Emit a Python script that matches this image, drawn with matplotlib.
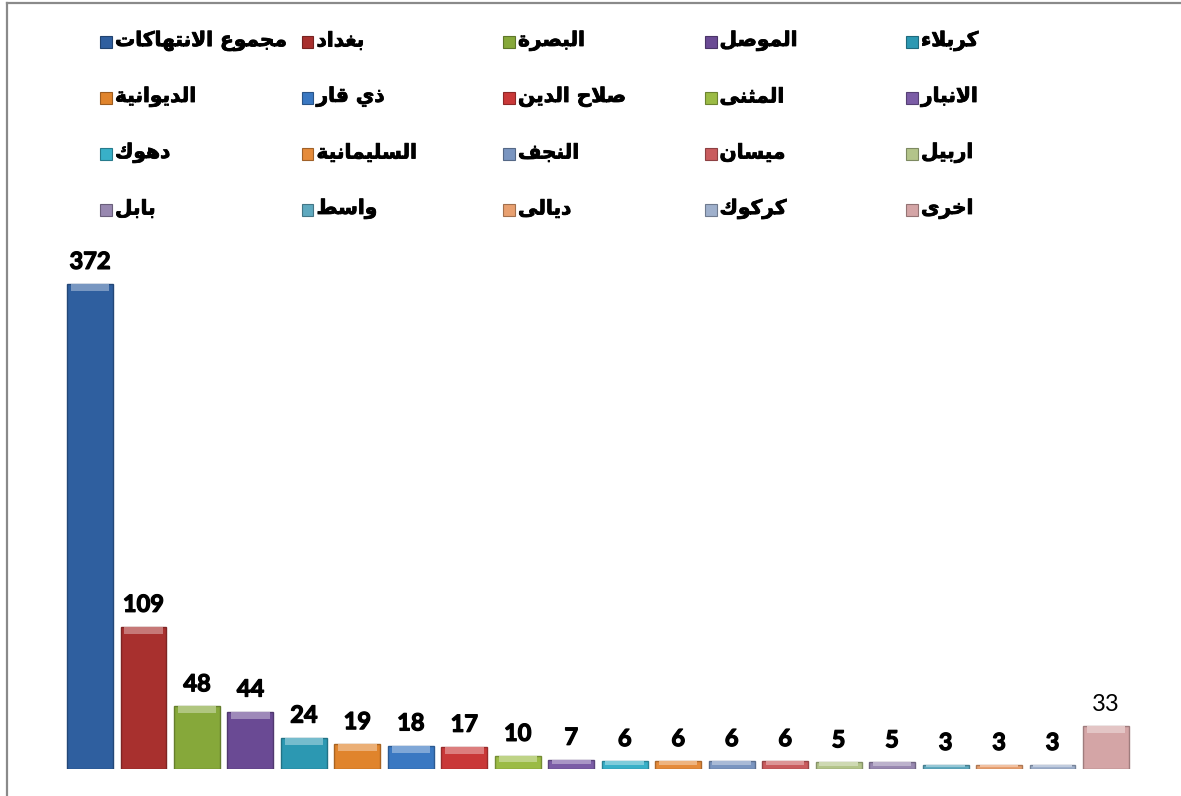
import matplotlib
matplotlib.use("Agg")
import matplotlib.pyplot as plt
from matplotlib.patches import Rectangle
from matplotlib.lines import Line2D
import matplotlib.colors as mcolors
import matplotlib.patheffects as pe

# ---------------- data ----------------
categories = ["مجموع الانتهاكات", "بغداد", "البصرة", "الموصل", "كربلاء",
              "الديوانية", "ذي قار", "صلاح الدين", "المثنى", "الانبار",
              "دهوك", "السليمانية", "النجف", "ميسان", "اربيل",
              "بابل", "واسط", "ديالى", "كركوك", "اخرى"]
values = [372, 109, 48, 44, 24, 19, 18, 17, 10, 7, 6, 6, 6, 6, 5, 5, 3, 3, 3, 33]
colors = ["#2F5F9F", "#A8302E", "#86A83A", "#6A4A94", "#2C98B2",
          "#E0842C", "#3A78C2", "#C93838", "#9BBB45", "#7B5CA6",
          "#38B0C8", "#E58B3A", "#7A95C0", "#C95C5E", "#B3C48A",
          "#9888B0", "#5FA9BF", "#E8A070", "#9FB0CC", "#D4A5A6"]
bold_labels = [True] * 19 + [False]

# ---------------- Arabic shaping (presentation forms) ----------------
FORMS = {
    'ء': ('\uFE80',),
    'ا': ('\uFE8D', '\uFE8E'),
    'ب': ('\uFE8F', '\uFE90', '\uFE91', '\uFE92'),
    'ة': ('\uFE93', '\uFE94'),
    'ت': ('\uFE95', '\uFE96', '\uFE97', '\uFE98'),
    'ث': ('\uFE99', '\uFE9A', '\uFE9B', '\uFE9C'),
    'ج': ('\uFE9D', '\uFE9E', '\uFE9F', '\uFEA0'),
    'ح': ('\uFEA1', '\uFEA2', '\uFEA3', '\uFEA4'),
    'خ': ('\uFEA5', '\uFEA6', '\uFEA7', '\uFEA8'),
    'د': ('\uFEA9', '\uFEAA'),
    'ذ': ('\uFEAB', '\uFEAC'),
    'ر': ('\uFEAD', '\uFEAE'),
    'ز': ('\uFEAF', '\uFEB0'),
    'س': ('\uFEB1', '\uFEB2', '\uFEB3', '\uFEB4'),
    'ش': ('\uFEB5', '\uFEB6', '\uFEB7', '\uFEB8'),
    'ص': ('\uFEB9', '\uFEBA', '\uFEBB', '\uFEBC'),
    'ض': ('\uFEBD', '\uFEBE', '\uFEBF', '\uFEC0'),
    'ط': ('\uFEC1', '\uFEC2', '\uFEC3', '\uFEC4'),
    'ظ': ('\uFEC5', '\uFEC6', '\uFEC7', '\uFEC8'),
    'ع': ('\uFEC9', '\uFECA', '\uFECB', '\uFECC'),
    'غ': ('\uFECD', '\uFECE', '\uFECF', '\uFED0'),
    'ف': ('\uFED1', '\uFED2', '\uFED3', '\uFED4'),
    'ق': ('\uFED5', '\uFED6', '\uFED7', '\uFED8'),
    'ك': ('\uFED9', '\uFEDA', '\uFEDB', '\uFEDC'),
    'ل': ('\uFEDD', '\uFEDE', '\uFEDF', '\uFEE0'),
    'م': ('\uFEE1', '\uFEE2', '\uFEE3', '\uFEE4'),
    'ن': ('\uFEE5', '\uFEE6', '\uFEE7', '\uFEE8'),
    'ه': ('\uFEE9', '\uFEEA', '\uFEEB', '\uFEEC'),
    'و': ('\uFEED', '\uFEEE'),
    'ى': ('\uFEEF', '\uFEF0'),
    'ي': ('\uFEF1', '\uFEF2', '\uFEF3', '\uFEF4'),
}


def _joins_forward(ch):
    return ch in FORMS and len(FORMS[ch]) == 4


def _joins(ch):
    return ch in FORMS and len(FORMS[ch]) >= 2


def shape_ar(text):
    out = []
    n = len(text)
    i = 0
    while i < n:
        ch = text[i]
        prev = text[i - 1] if i > 0 else ''
        if ch not in FORMS:
            out.append(ch)
            i += 1
            continue
        link_prev = _joins_forward(prev) and _joins(ch)
        if ch == 'ل' and i + 1 < n and text[i + 1] == 'ا':
            out.append('\uFEFC' if link_prev else '\uFEFB')
            i += 2
            continue
        nxt = text[i + 1] if i + 1 < n else ''
        link_next = _joins_forward(ch) and _joins(nxt)
        f = FORMS[ch]
        if len(f) == 1:
            out.append(f[0])
        elif len(f) == 2:
            out.append(f[1] if link_prev else f[0])
        else:
            if link_prev and link_next:
                out.append(f[3])
            elif link_prev:
                out.append(f[1])
            elif link_next:
                out.append(f[2])
            else:
                out.append(f[0])
        i += 1
    return ''.join(out)[::-1]


def lighten(c, amt):
    r, g, b = mcolors.to_rgb(c)
    return (r + (1 - r) * amt, g + (1 - g) * amt, b + (1 - b) * amt)


def darken(c, amt):
    r, g, b = mcolors.to_rgb(c)
    return (r * (1 - amt), g * (1 - amt), b * (1 - amt))


# ---------------- figure ----------------
W, H = 1181, 796
fig = plt.figure(figsize=(W / 100, H / 100), dpi=100)
fig.patch.set_facecolor("white")

ax_left, ax_right = 63.3, 1132.7
ax_bottom, ax_top = 769, 247.5
ax = fig.add_axes([ax_left / W, 1 - ax_bottom / H,
                   (ax_right - ax_left) / W, (ax_bottom - ax_top) / H])
ax.set_xlim(-0.5, len(values) - 0.5)
ax.set_ylim(0, 400)
ax.axis("off")

x = list(range(len(values)))
ax.bar(x, values, width=0.86, color=colors,
       edgecolor=[darken(c, 0.25) for c in colors], linewidth=1.0, zorder=2)

# bevel highlight at the top of each bar
px_per_unit = (ax_bottom - ax_top) / 400.0
bev = 7 / px_per_unit
bev_h = [min(bev, v * 0.5) for v in values]
ax.bar(x, bev_h, bottom=[v - h for v, h in zip(values, bev_h)], width=0.72,
       color=[lighten(c, 0.35) for c in colors], linewidth=0, zorder=3)

thick = [pe.withStroke(linewidth=0.9, foreground="black")]
for xi, v, b in zip(x, values, bold_labels):
    ax.annotate(str(v), (xi, v), xytext=(0, 8), textcoords="offset points",
                ha="center", va="bottom", fontsize=17,
                fontweight="bold" if b else "normal",
                family=["Lato", "DejaVu Sans"], color="black",
                path_effects=thick if b else None)

# ---------------- legend (5 columns, row-major) ----------------
col_x = [100, 301.5, 503, 704.5, 906]
row_y = [42, 98, 154, 210]
msz = 12
for i, (lab, c) in enumerate(zip(categories, colors)):
    r, cidx = divmod(i, 5)
    mx, my = col_x[cidx], row_y[r]
    rect = Rectangle((mx / W, 1 - (my + msz / 2) / H), msz / W, msz / H,
                     transform=fig.transFigure, facecolor=c,
                     edgecolor=darken(c, 0.3), linewidth=0.8)
    fig.patches.append(rect)
    fig.text((mx + msz + 3) / W, 1 - (my - 1) / H, shape_ar(lab),
             ha="left", va="center", fontsize=14.5, fontweight="bold",
             family=["DejaVu Sans"], color="black",
             path_effects=[pe.withStroke(linewidth=0.6, foreground="black")])

# ---------------- outer border (top and left) ----------------
fig.add_artist(Line2D([7 / W, 1], [1 - 3 / H, 1 - 3 / H],
                      transform=fig.transFigure, color="#8a8a8a", linewidth=1.6))
fig.add_artist(Line2D([7 / W, 7 / W], [0, 1 - 3 / H],
                      transform=fig.transFigure, color="#8a8a8a", linewidth=1.6))

fig.savefig("out.png", dpi=100, facecolor="white")
